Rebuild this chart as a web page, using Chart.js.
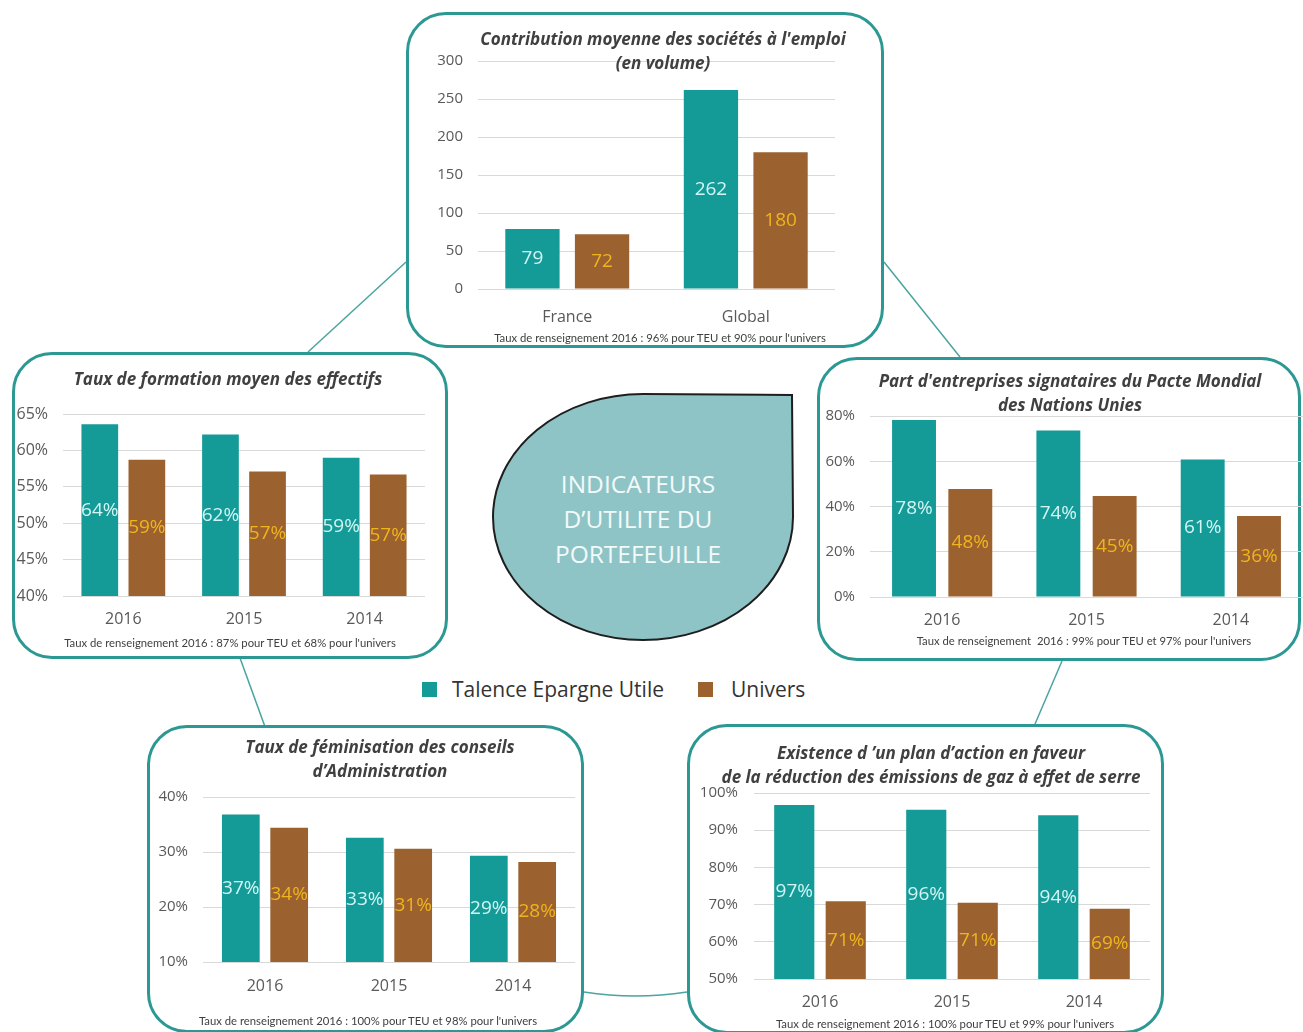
<!DOCTYPE html>
<html lang="fr">
<head>
<meta charset="utf-8">
<title>Indicateurs d'utilité du portefeuille</title>
<script src="https://cdn.jsdelivr.net/npm/chart.js@4.4.1/dist/chart.umd.min.js"></script>
<style>
  html, body { margin: 0; padding: 0; background: #fff; overflow: hidden; }
  #page { position: relative; width: 1303px; height: 1032px; }
  .box { position: absolute; box-sizing: border-box; border: 3px solid #2b9893; border-radius: 40px; background: #fff; }
  canvas { position: absolute; }
  .title { position: absolute; width: 600px; text-align: center; font: italic 700 17px/23.5px "Open Sans", sans-serif; color: #404040; }
  .note { position: absolute; width: 500px; text-align: center; font: 11.3px/13px Lato, sans-serif; color: #404040; white-space: pre; }
  #drop-text { position: absolute; left: 488px; top: 466px; width: 300px; text-align: center; font: 24.5px/35px "Open Sans", sans-serif; color: #f2fafa; }
  .leg { position: absolute; font: 21px/28px "Open Sans", sans-serif; color: #333; top: 675px; }
  .sq { position: absolute; width: 15px; height: 15px; top: 682px; }
</style>
</head>
<body>
<div id="page">
  <svg width="1303" height="1032" style="position:absolute;left:0;top:0">
    <g stroke="#4aa4a1" stroke-width="1.5" fill="none">
      <path d="M 406 262 L 308 352"/>
      <path d="M 884 262 L 960 357"/>
      <path d="M 240 658 L 268 735"/>
      <path d="M 1062 661 L 1035 724"/>
      <path d="M 584 992 Q 635 1000 687 992"/>
    </g>
    <path d="M 792 395 L 643 394 A 150 123 0 1 0 793 517 L 792 395 Z" fill="#8fc4c6" stroke="#1e1e1e" stroke-width="2"/>
  </svg>

  <div class="box" style="left:406px;top:12px;width:478px;height:336px"></div>
  <div class="box" style="left:12px;top:352px;width:436px;height:307px"></div>
  <div class="box" style="left:817px;top:357px;width:484px;height:304px"></div>
  <div class="box" style="left:147px;top:725px;width:437px;height:308px"></div>
  <div class="box" style="left:687px;top:724px;width:477px;height:310px"></div>

  <div id="drop-text">INDICATEURS<br>D’UTILITE DU<br>PORTEFEUILLE</div>

  <div class="sq" style="left:422px;background:#149a97"></div>
  <div class="leg" style="left:452px">Talence Epargne Utile</div>
  <div class="sq" style="left:698px;background:#9b6230"></div>
  <div class="leg" style="left:731px">Univers</div>

  <canvas id="emploiChart" width="474" height="330" style="left:408px;top:15px"></canvas>
  <canvas id="formationChart" width="430" height="301" style="left:15px;top:355px"></canvas>
  <canvas id="pacteChart" width="482" height="299" style="left:821px;top:360px"></canvas>
  <canvas id="feminisationChart" width="431" height="300" style="left:150px;top:728px"></canvas>
  <canvas id="carboneChart" width="473" height="300" style="left:690px;top:727px"></canvas>

  <div class="title" style="left:363px;top:27px">Contribution moyenne des sociétés à l'emploi<br>(en volume)</div>
  <div class="title" style="left:-72px;top:367px">Taux de formation moyen des effectifs</div>
  <div class="title" style="left:770px;top:369px">Part d'entreprises signataires du Pacte Mondial<br>des Nations Unies</div>
  <div class="title" style="left:80px;top:735px">Taux de féminisation des conseils<br>d’Administration</div>
  <div class="title" style="left:631px;top:741px">Existence d ’un plan d’action en faveur<br>de la réduction des émissions de gaz à effet de serre</div>

  <div class="note" style="left:410px;top:331px">Taux de renseignement 2016 : 96% pour TEU et 90% pour l'univers</div>
  <div class="note" style="left:-20px;top:636px">Taux de renseignement 2016 : 87% pour TEU et 68% pour l'univers</div>
  <div class="note" style="left:834px;top:634px">Taux de renseignement  2016 : 99% pour TEU et 97% pour l'univers</div>
  <div class="note" style="left:118px;top:1014px">Taux de renseignement 2016 : 100% pour TEU et 98% pour l'univers</div>
  <div class="note" style="left:695px;top:1017px">Taux de renseignement 2016 : 100% pour TEU et 99% pour l'univers</div>
</div>

<script>
// values
const emploiCategories = ['France', 'Global'];
const emploiTeu = [79, 262];
const emploiUnivers = [72, 180];
const emploiRange = [0, 300, 50];

const yearLabels = ['2016', '2015', '2014'];

const formationTeu = [63.6, 62.2, 59.0];
const formationUnivers = [58.7, 57.1, 56.7];
const formationRange = [40, 65, 5];

const pacteTeu = [78.2, 73.6, 60.8];
const pacteUnivers = [47.7, 44.6, 35.8];
const pacteRange = [0, 80, 20];

const feminisationTeu = [36.8, 32.6, 29.3];
const feminisationUnivers = [34.4, 30.6, 28.2];
const feminisationRange = [10, 40, 10];

const carboneTeu = [96.8, 95.5, 94.0];
const carboneUnivers = [70.9, 70.5, 68.9];
const carboneRange = [50, 100, 10];

const TEAL = '#149a97';
const BROWN = '#9b6230';

// writes the value in the middle of the visible part of each bar
const barValueLabels = {
    id: 'barValueLabels',
    afterDatasetsDraw(chart, args, opts) {
        const ctx = chart.ctx;
        const bottom = chart.chartArea.bottom;
        ctx.save();
        ctx.font = opts.size + 'px "Open Sans"';
        ctx.textAlign = 'center';
        ctx.textBaseline = 'middle';
        chart.data.datasets.forEach((ds, i) => {
            chart.getDatasetMeta(i).data.forEach((bar, j) => {
                const base = Math.min(bar.base, bottom);
                ctx.fillStyle = ds.labelColor;
                ctx.fillText(Math.round(ds.data[j]) + opts.suffix, bar.x, (bar.y + base) / 2);
            });
        });
        ctx.restore();
    }
};
Chart.register(barValueLabels);

function drawIndicator(id, labels, teu, univers, range, suffix, frame) {
    const ctx = document.getElementById(id).getContext('2d');
    return new Chart(ctx, {
        type: 'bar',
        data: {
            labels: labels,
            datasets: [
                { label: 'Talence Epargne Utile', data: teu, backgroundColor: TEAL, labelColor: '#d2f6f4' },
                { label: 'Univers', data: univers, backgroundColor: BROWN, labelColor: '#f0b41c' }
            ]
        },
        options: {
            responsive: false,
            animation: false,
            datasets: { bar: { categoryPercentage: 0.78, barPercentage: 0.78 } },
            layout: { padding: { left: 0, right: frame.right, top: frame.top, bottom: 0 } },
            plugins: {
                legend: { display: false },
                tooltip: { enabled: false },
                barValueLabels: { size: 19, suffix: suffix }
            },
            scales: {
                x: {
                    grid: { display: false, drawTicks: false },
                    border: { display: false },
                    ticks: { color: '#595959', font: { family: 'Open Sans', size: 16 }, padding: frame.xPad },
                    afterFit: (s) => { s.height = frame.xHeight; }
                },
                y: {
                    min: range[0],
                    max: range[1],
                    grid: { color: '#d9d9d9', drawTicks: false },
                    border: { display: false },
                    ticks: {
                        stepSize: range[2],
                        padding: frame.yPad,
                        color: '#595959',
                        font: { family: 'Open Sans', size: frame.yFont },
                        callback: (v) => v + suffix
                    },
                    afterFit: (s) => { s.width = frame.yWidth; }
                }
            }
        }
    });
}

drawIndicator('emploiChart', emploiCategories, emploiTeu, emploiUnivers, emploiRange, '',
    { yWidth: 70, right: 47, top: 46, xHeight: 56, xPad: 19, yPad: 15, yFont: 15 });
drawIndicator('formationChart', yearLabels, formationTeu, formationUnivers, formationRange, '%',
    { yWidth: 48, right: 20, top: 59, xHeight: 60, xPad: 14, yPad: 15, yFont: 16 });
drawIndicator('pacteChart', yearLabels, pacteTeu, pacteUnivers, pacteRange, '%',
    { yWidth: 49, right: 0, top: 56, xHeight: 62, xPad: 14, yPad: 15, yFont: 15 });
drawIndicator('feminisationChart', yearLabels, feminisationTeu, feminisationUnivers, feminisationRange, '%',
    { yWidth: 53, right: 6, top: 69, xHeight: 66, xPad: 15, yPad: 15, yFont: 15 });
drawIndicator('carboneChart', yearLabels, carboneTeu, carboneUnivers, carboneRange, '%',
    { yWidth: 64, right: 13, top: 66, xHeight: 48, xPad: 14, yPad: 16, yFont: 15 });
</script>
</body>
</html>
